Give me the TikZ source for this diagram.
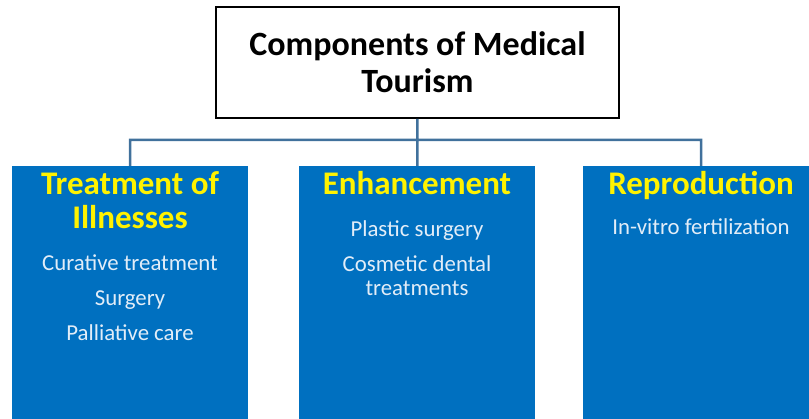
\documentclass[tikz,border=0pt]{standalone}
\usepackage{fontspec}
\setmainfont{Carlito}
\usetikzlibrary{positioning}
\definecolor{boxblue}{RGB}{0,112,192}
\definecolor{linkblue}{RGB}{65,113,156}
\definecolor{itemwhite}{RGB}{226,237,248}
\tikzset{colbox/.style={fill=boxblue,anchor=north,minimum width=236pt,minimum height=300pt,inner sep=0pt}}
\tikzset{head/.style={text=yellow,font=\bfseries\fontsize{33}{34}\selectfont,align=center,inner sep=0pt,anchor=north}}
\tikzset{items/.style={text=itemwhite,font=\fontsize{22.8}{24}\selectfont,align=center,inner sep=0pt,anchor=north}}
\tikzset{link/.style={draw=linkblue,line width=2.5pt}}

\begin{document}
\begin{tikzpicture}[x=1pt,y=1pt,node distance=6pt]
        \useasboundingbox (0,0) rectangle (809,-419);
        \clip (0,0) rectangle (809,-419);
        \node(top)[draw,line width=2pt,minimum width=403pt,minimum height=111pt,align=center,
          font=\bfseries\fontsize{34}{37}\selectfont] at (417.5,-62.5) {Components of Medical\\Tourism};
        % three columns, cut off by the page edge
        \node(treat)[colbox] at (130,-166) {};
        \node(enh)[colbox] at (417,-166) {};
        \node(repr)[colbox] at (701,-166) {};
        \node(treathead)[head,below=5pt of treat.north]{Treatment of\\Illnesses};
        \node(enhhead)[head,below=5pt of enh.north]{Enhancement};
        \node(reprhead)[head,below=5pt of repr.north]{Reproduction};
        \node(treatlist)[items,below=26pt of treathead]{Curative treatment\\[11pt]Surgery\\[11pt]Palliative care};
        \node(enhlist)[items,below=26pt of enhhead]{Plastic surgery\\[11pt]Cosmetic dental\\treatments};
        \node(reprlist)[items,below=19pt of reprhead]{In-vitro fertilization};
        \coordinate(bus) at (417,-140);
        \draw[link]
        (top) -- (enh)
        (treat.north) |- (bus) -| (repr.north);
      \end{tikzpicture}
\end{document}
